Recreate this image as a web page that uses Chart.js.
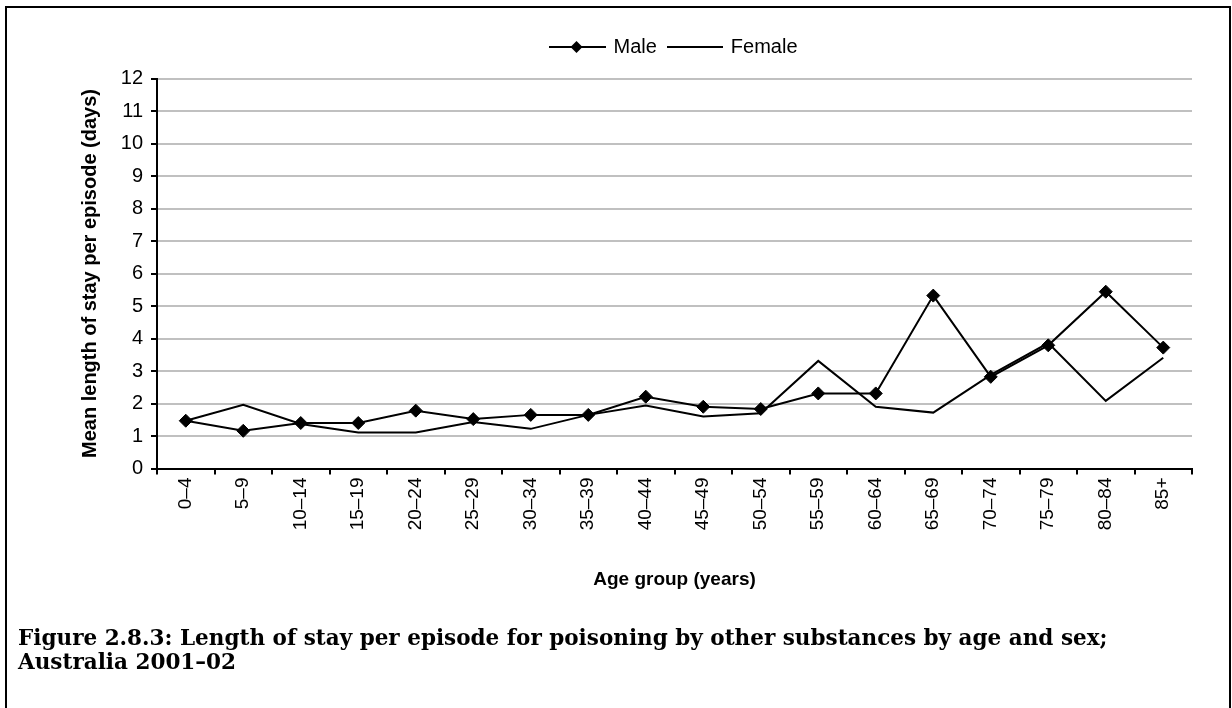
<!DOCTYPE html>
<html>
<head>
<meta charset="utf-8">
<script src="https://cdn.jsdelivr.net/npm/chart.js@4.4.0/dist/chart.umd.min.js"></script>
<style>
  html, body { margin: 0; padding: 0; background: #fff; }
  body { width: 1232px; height: 708px; position: relative; overflow: hidden; }
  #frame { position: absolute; left: 5px; top: 6px; width: 1226px; height: 720px; border: 2px solid #000; box-sizing: border-box; }
  #wrap { position: absolute; left: 0; top: 0; width: 1232px; height: 708px; }
  #caption { position: absolute; left: 18px; top: 626px; font-family: "DejaVu Serif", serif; font-weight: bold; font-size: 19px; line-height: 24px; color: #000; white-space: nowrap; }
</style>
</head>
<body>
<div id="frame"></div>
<div id="wrap"><canvas id="losChart" width="1232" height="708"></canvas></div>
<div id="caption">Figure 2.8.3: Length of stay per episode for poisoning by other substances by age and sex;<br>Australia 2001–02</div>

<script>
// Age groups and mean length of stay (days)
const ageGroups = ['0–4', '5–9', '10–14', '15–19', '20–24', '25–29', '30–34', '35–39', '40–44',
                   '45–49', '50–54', '55–59', '60–64', '65–69', '70–74', '75–79', '80–84', '85+'];
const maleStay   = [1.47, 1.16, 1.40, 1.40, 1.78, 1.52, 1.65, 1.65, 2.21, 1.90, 1.83, 2.31, 2.31, 5.32, 2.82, 3.79, 5.44, 3.72];
const femaleStay = [1.47, 1.96, 1.37, 1.11, 1.11, 1.43, 1.22, 1.65, 1.94, 1.60, 1.70, 3.31, 1.90, 1.72, 2.88, 3.86, 2.08, 3.41];
const yMin = 0, yMax = 12, yStep = 1;

const FONT = "'Liberation Sans', Arial, sans-serif";

// legend swatches: line with diamond for male, plain line for female
function makeSwatch(width, withDiamond) {
    const c = document.createElement('canvas');
    c.width = width;
    c.height = 16;
    const g = c.getContext('2d');
    g.strokeStyle = '#000';
    g.lineWidth = 2;
    g.beginPath();
    g.moveTo(0, 8);
    g.lineTo(width, 8);
    g.stroke();
    if (withDiamond) {
        const cx = width / 2 - 1;
        g.fillStyle = '#000';
        g.beginPath();
        g.moveTo(cx - 6, 8);
        g.lineTo(cx, 2);
        g.lineTo(cx + 6, 8);
        g.lineTo(cx, 14);
        g.closePath();
        g.fill();
    }
    return c;
}
const swatches = [makeSwatch(57, true), makeSwatch(56, false)];

// fit caption width to the reference
(function fitCaption() {
    const cap = document.getElementById('caption');
    const m = document.createElement('canvas').getContext('2d');
    m.font = "bold 19px 'DejaVu Serif', serif";
    const w = m.measureText('Figure 2.8.3: Length of stay per episode for poisoning by other substances by age and sex;').width;
    cap.style.fontSize = (19 * 1090 / w).toFixed(2) + 'px';
})();

// extra space between legend and plot
const legendGap = {
    id: 'legendGap',
    afterInit(chart) {
        const lg = chart.legend;
        const fit = lg.fit;
        lg.fit = function() {
            fit.call(this);
            this.height += 11.5;
        };
    }
};

const ctx = document.getElementById('losChart');

new Chart(ctx, {
    type: 'line',
    data: {
        labels: ageGroups,
        datasets: [{
            label: 'Male',
            data: maleStay,
            borderColor: '#000',
            backgroundColor: '#000',
            borderWidth: 2,
            tension: 0,
            pointStyle: 'rectRot',
            pointRadius: 6.5,
            pointBorderWidth: 1,
            pointBackgroundColor: '#000',
            pointBorderColor: '#000'
        }, {
            label: 'Female',
            data: femaleStay,
            borderColor: '#000',
            backgroundColor: '#000',
            borderWidth: 2,
            tension: 0,
            pointRadius: 0
        }]
    },
    plugins: [legendGap],
    options: {
        responsive: false,
        animation: false,
        layout: {
            padding: { left: 78, right: 40, top: 25, bottom: 117 }
        },
        plugins: {
            tooltip: { enabled: false },
            legend: {
                display: true,
                position: 'top',
                fullSize: false,
                labels: {
                    color: '#000',
                    font: { family: FONT, size: 20 },
                    usePointStyle: true,
                    pointStyleWidth: 52,
                    padding: 12,
                    generateLabels: function(chart) {
                        const items = Chart.defaults.plugins.legend.labels.generateLabels(chart);
                        items.forEach((it, i) => { it.pointStyle = swatches[i]; });
                        return items;
                    }
                }
            }
        },
        scales: {
            x: {
                offset: true,
                grid: {
                    offset: true,
                    drawOnChartArea: false,
                    drawTicks: true,
                    tickLength: 6,
                    color: '#000',
                    lineWidth: 2
                },
                border: { display: true, color: '#000', width: 2 },
                ticks: {
                    color: '#000',
                    font: { family: FONT, size: 19 },
                    minRotation: 90,
                    maxRotation: 90,
                    autoSkip: false,
                    padding: 3
                },
                title: {
                    display: true,
                    text: 'Age group (years)',
                    color: '#000',
                    font: { family: FONT, size: 19, weight: 'bold' },
                    padding: 0
                },
                afterFit: function(scale) { scale.height = 708 - 117 - 468.5; }
            },
            y: {
                min: yMin,
                max: yMax,
                grid: {
                    color: '#c0c0c0',
                    lineWidth: 2,
                    tickColor: '#000',
                    tickLength: 6
                },
                border: { display: true, color: '#000', width: 2 },
                ticks: {
                    stepSize: yStep,
                    color: '#000',
                    font: { family: FONT, size: 20 },
                    padding: 8
                },
                title: {
                    display: true,
                    text: 'Mean length of stay per episode (days)',
                    color: '#000',
                    font: { family: FONT, size: 20, weight: 'bold' },
                    padding: 0
                },
                afterFit: function(scale) { scale.width = 157 - 78; }
            }
        }
    }
});
</script>
</body>
</html>
